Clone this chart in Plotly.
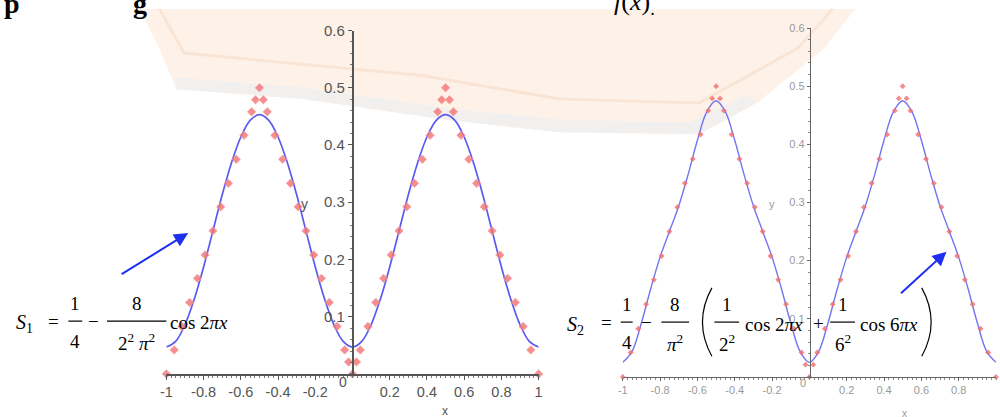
import plotly.graph_objects as go

# ---------------- data ----------------
x_pts = [-1, -0.958, -0.917, -0.875, -0.833, -0.792, -0.75, -0.708, -0.667, -0.625,
         -0.583, -0.542, -0.521, -0.5, -0.479, -0.458, -0.417, -0.375, -0.333, -0.292,
         -0.25, -0.208, -0.167, -0.125, -0.083, -0.042, -0.021, 0, 0.021, 0.042,
         0.083, 0.125, 0.167, 0.208, 0.25, 0.292, 0.333, 0.375, 0.417, 0.458,
         0.479, 0.5, 0.521, 0.542, 0.583, 0.625, 0.667, 0.708, 0.75, 0.792,
         0.833, 0.875, 0.917, 0.958, 1]
f_pts = [0, 0.042, 0.083, 0.125, 0.167, 0.208, 0.25, 0.292, 0.333, 0.375,
         0.417, 0.458, 0.479, 0.5, 0.479, 0.458, 0.417, 0.375, 0.333, 0.292,
         0.25, 0.208, 0.167, 0.125, 0.083, 0.042, 0.021, 0, 0.021, 0.042,
         0.083, 0.125, 0.167, 0.208, 0.25, 0.292, 0.333, 0.375, 0.417, 0.458,
         0.479, 0.5, 0.479, 0.458, 0.417, 0.375, 0.333, 0.292, 0.25, 0.208,
         0.167, 0.125, 0.083, 0.042, 0]

x_curve = [-1, -0.95, -0.9, -0.85, -0.8, -0.75, -0.7, -0.65, -0.6, -0.55, -0.5,
           -0.45, -0.4, -0.35, -0.3, -0.25, -0.2, -0.15, -0.1, -0.05, 0,
           0.05, 0.1, 0.15, 0.2, 0.25, 0.3, 0.35, 0.4, 0.45, 0.5,
           0.55, 0.6, 0.65, 0.7, 0.75, 0.8, 0.85, 0.9, 0.95, 1]
s1_vals = [0.047, 0.057, 0.086, 0.131, 0.187, 0.25, 0.313, 0.369, 0.414, 0.443, 0.453,
           0.443, 0.414, 0.369, 0.313, 0.25, 0.187, 0.131, 0.086, 0.057, 0.047,
           0.057, 0.086, 0.131, 0.187, 0.25, 0.313, 0.369, 0.414, 0.443, 0.453,
           0.443, 0.414, 0.369, 0.313, 0.25, 0.187, 0.131, 0.086, 0.057, 0.047]
s2_vals = [0.025, 0.044, 0.093, 0.152, 0.206, 0.25, 0.294, 0.348, 0.407, 0.456, 0.475,
           0.456, 0.407, 0.348, 0.294, 0.25, 0.206, 0.152, 0.093, 0.044, 0.025,
           0.044, 0.093, 0.152, 0.206, 0.25, 0.294, 0.348, 0.407, 0.456, 0.475,
           0.456, 0.407, 0.348, 0.294, 0.25, 0.206, 0.152, 0.093, 0.044, 0.025]

x_tickvals = [-1, -0.8, -0.6, -0.4, -0.2, 0.2, 0.4, 0.6, 0.8, 1]
x_ticktext = ["-1", "-0.8", "-0.6", "-0.4", "-0.2", "0.2", "0.4", "0.6", "0.8", "1"]
x2_tickvals = [-1, -0.8, -0.6, -0.4, -0.2, 0.2, 0.4, 0.6, 0.8]
x2_ticktext = ["-1", "-0.8", "-0.6", "-0.4", "-0.2", "0.2", "0.4", "0.6", "0.8"]
y_tickvals = [0.1, 0.2, 0.3, 0.4, 0.5, 0.6]
y_ticktext = ["0.1", "0.2", "0.3", "0.4", "0.5", "0.6"]

W, H = 1000, 417


def px(x):
    return x / W


def py(y):
    return 1 - y / H


fig = go.Figure()

# left plot
fig.add_trace(go.Scatter(x=x_curve, y=s1_vals, mode="lines", line=dict(color="#5a5af2", width=1.7, shape="spline"),
                         xaxis="x", yaxis="y", hoverinfo="skip"))
fig.add_trace(go.Scatter(x=x_pts, y=f_pts, mode="markers", cliponaxis=False,
                         marker=dict(symbol="diamond", size=6.5, color="rgba(242,115,115,0.8)",
                                     line=dict(width=0.8, color="rgba(250,160,160,0.9)")),
                         xaxis="x", yaxis="y", hoverinfo="skip"))
# right plot
fig.add_trace(go.Scatter(x=x_curve, y=s2_vals, mode="lines", line=dict(color="#7474f2", width=1.4, shape="spline"),
                         xaxis="x2", yaxis="y2", hoverinfo="skip"))
fig.add_trace(go.Scatter(x=x_pts, y=f_pts, mode="markers", cliponaxis=False,
                         marker=dict(symbol="diamond", size=4.5, color="rgba(240,110,110,0.8)", line=dict(width=0)),
                         xaxis="x2", yaxis="y2", hoverinfo="skip"))

ax_common = dict(showgrid=False, zeroline=False, showline=True, ticks="outside", fixedrange=True)

left_dom_x = [px(162), px(538)]
left_dom_y = [py(373), py(22)]
right_dom_x = [px(623), 1.0]
right_dom_y = [py(376), py(19.5)]

fig.update_layout(
    width=W, height=H,
    margin=dict(l=0, r=0, t=0, b=0),
    paper_bgcolor="white", plot_bgcolor="rgba(0,0,0,0)",
    showlegend=False,
    xaxis=dict(domain=left_dom_x, range=[-1, 1], anchor="y", tickvals=x_tickvals, ticktext=x_ticktext,
               linecolor="#555", linewidth=1.5, tickcolor="#555", ticklen=4, tickwidth=1.2,
               tickfont=dict(family="Liberation Sans", size=14.5, color="#555"),
               minor=dict(dtick=0.025, ticklen=2, tickcolor="#777", ticks="outside"), **ax_common),
    yaxis=dict(domain=left_dom_y, range=[0, 0.6], anchor="free", position=px(350),
               tickvals=y_tickvals, ticktext=y_ticktext,
               linecolor="#555", linewidth=1.5, tickcolor="#555", ticklen=4, tickwidth=1.2,
               tickfont=dict(family="Liberation Sans", size=15, color="#555"),
               minor=dict(dtick=0.02, ticklen=2, tickcolor="#777", ticks="outside"), **ax_common),
    xaxis2=dict(domain=right_dom_x, range=[-1, 1], anchor="y2", tickvals=x2_tickvals, ticktext=x2_ticktext,
                linecolor="#666", linewidth=1.2, tickcolor="#666", ticklen=3, tickwidth=1,
                tickfont=dict(family="Liberation Sans", size=11, color="#999"),
                minor=dict(dtick=0.025, ticklen=2, tickcolor="#888", ticks="outside"), **ax_common),
    yaxis2=dict(domain=right_dom_y, range=[0, 0.6], anchor="free", position=px(812),
                tickvals=y_tickvals, ticktext=y_ticktext,
                linecolor="#666", linewidth=1.2, tickcolor="#666", ticklen=3, tickwidth=1,
                tickfont=dict(family="Liberation Sans", size=11, color="#999"),
                minor=dict(dtick=0.02, ticklen=2, tickcolor="#888", ticks="outside"), **ax_common),
)

shapes = []
annotations = []


def poly(points, fill):
    d = "M " + " L ".join(f"{px(a):.4f},{py(b):.4f}" for a, b in points) + " Z"
    shapes.append(dict(type="path", path=d, xref="paper", yref="paper", layer="below",
                       fillcolor=fill, line=dict(width=0)))


# faded watermark logo in the background
poly([(135, 0), (155, 40), (172, 82), (300, 92), (450, 114), (560, 126), (700, 128),
      (760, 95), (825, 42), (858, 0)], "#fef2e8")
poly([(172, 70), (300, 80), (450, 102), (560, 113), (690, 116), (748, 88), (760, 95),
      (700, 128), (560, 126), (450, 114), (300, 92), (172, 82)], "#f2f0ef")
shapes.append(dict(type="path", xref="paper", yref="paper", layer="below",
                   path=f"M {px(155):.4f},{py(0):.4f} L {px(180):.4f},{py(45):.4f} L {px(420):.4f},{py(68):.4f} "
                        f"L {px(560):.4f},{py(92):.4f} L {px(700):.4f},{py(96):.4f} L {px(800):.4f},{py(40):.4f} "
                        f"L {px(835):.4f},{py(0):.4f}",
                   line=dict(color="#fae4d4", width=3)))


def text(s, x, y, size=19, xanchor="center", color="black", family="Liberation Serif"):
    annotations.append(dict(text=s, x=px(x), y=py(y), xref="paper", yref="paper", showarrow=False,
                            xanchor=xanchor, yanchor="middle",
                            font=dict(family=family, size=size, color=color)))


def frac(num, den, xc, ybar, w, size=19):
    text(num, xc, ybar - 18, size)
    text(den, xc, ybar + 21, size)
    shapes.append(dict(type="line", xref="paper", yref="paper", x0=px(xc - w / 2), x1=px(xc + w / 2),
                       y0=py(ybar), y1=py(ybar), line=dict(color="black", width=1.2)))


# top text line (cut off at the top edge)
text("<b>p</b>", 6, -6, size=28)
text("<b>g</b>", 135, -6, size=28)
text("<i>f</i>(<i>x</i>)<sub>.</sub>", 612, -6, size=26, xanchor="left")

# axis labels
text("y", 302, 199, size=14, color="#555", family="Liberation Sans")
text("x", 443, 411, size=12, color="#555", family="Liberation Sans")
text("0", 340, 381, size=14, color="#555", family="Liberation Sans")
text("y", 774, 199, size=11, color="#999", family="Liberation Sans")
text("x", 908, 413, size=10, color="#999", family="Liberation Sans")
text("0", 805, 382, size=11, color="#999", family="Liberation Sans")

# formula S1
text("<i>S</i><sub>1</sub>", 8, 321, size=20, xanchor="left")
text("=", 48, 319)
frac("1", "4", 70, 319, 14)
text("\u2212", 88, 319)
frac("8", "2<sup>2</sup> <i>\u03c0</i><sup>2</sup>", 132, 319, 60)
text("cos 2<i>\u03c0x</i>", 164, 320, xanchor="left")

# formula S2
text("<i>S</i><sub>2</sub>", 565, 323, size=20, xanchor="left")
text("=", 607, 320)
frac("1", "4", 627, 320, 12)
text("\u2212", 647, 320)
frac("8", "<i>\u03c0</i><sup>2</sup>", 676, 320, 28)
frac("1", "2<sup>2</sup>", 728, 320, 25)
text("cos 2<i>\u03c0x</i>", 744, 322, xanchor="left")
text("+", 821, 321)
frac("1", "6<sup>2</sup>", 845, 320, 25)
text("cos 6<i>\u03c0x</i>", 861, 322, xanchor="left")
shapes.append(dict(type="path", xref="paper", yref="paper",
                   path=f"M {px(713):.4f},{py(285):.4f} Q {px(694):.4f},{py(320):.4f} {px(713):.4f},{py(355):.4f}",
                   line=dict(color="black", width=1.2)))
shapes.append(dict(type="path", xref="paper", yref="paper",
                   path=f"M {px(925):.4f},{py(285):.4f} Q {px(944):.4f},{py(320):.4f} {px(925):.4f},{py(355):.4f}",
                   line=dict(color="black", width=1.2)))

# blue arrows
for (tx, ty, sx, sy) in [(184, 229, 116, 271), (950, 248, 903, 291)]:
    annotations.append(dict(text="", x=px(tx), y=py(ty), xref="paper", yref="paper", showarrow=True,
                            ax=sx - tx, ay=sy - ty, arrowhead=2, arrowsize=1.4, arrowwidth=2,
                            arrowcolor="#1e30ee", standoff=0))

fig.update_layout(shapes=shapes, annotations=annotations)
fig.write_html("out.html", config={"displayModeBar": False},
               post_script="document.body.style.margin='0';document.body.style.overflow='hidden';")
